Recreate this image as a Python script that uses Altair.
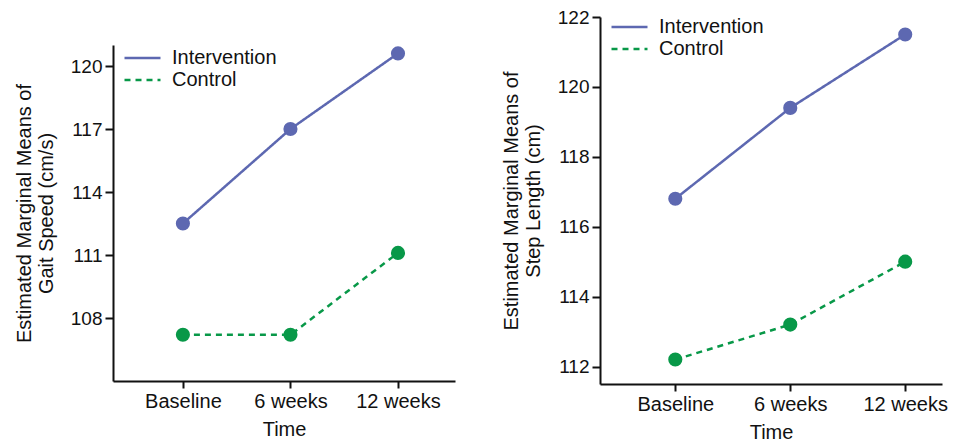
import json
import altair as alt
import pandas as pd

times = ["Baseline", "6 weeks", "12 weeks"]
groups = ["Intervention", "Control"]
gait_intervention = [112.5, 117.0, 120.6]
gait_control = [107.2, 107.2, 111.1]
step_intervention = [116.8, 119.4, 121.5]
step_control = [112.2, 113.2, 115.0]
gait_ticks = [108, 111, 114, 117, 120]
step_ticks = [112, 114, 116, 118, 120, 122]

BLUE = "#5d68b1"
GREEN = "#089848"
FONT = "Liberation Sans"


def frame(inter, ctrl):
    rows = []
    for i, t in enumerate(times):
        rows.append({"idx": i, "time": t, "group": "Intervention", "value": inter[i]})
    for i, t in enumerate(times):
        rows.append({"idx": i, "time": t, "group": "Control", "value": ctrl[i]})
    return pd.DataFrame(rows)


label_expr = json.dumps(times) + "[datum.value]"


def panel(df, ytitle, ydomain, yticks, xdomain, w, h, legend_y):
    x = alt.X(
        "idx:Q",
        scale=alt.Scale(domain=xdomain, nice=False, zero=False),
        axis=alt.Axis(
            values=[0, 1, 2], labelExpr=label_expr, title="Time", grid=False,
            tickSize=7, tickWidth=2, domainWidth=2, domainColor="#111", tickColor="#111",
            labelFontSize=20, titleFontSize=20, labelPadding=3, titlePadding=8,
            labelColor="#111", titleColor="#111", titleFontWeight="normal",
            labelFont=FONT, titleFont=FONT, labelFlush=False,
        ),
    )
    y = alt.Y(
        "value:Q",
        scale=alt.Scale(domain=ydomain, nice=False, zero=False),
        axis=alt.Axis(
            values=yticks, title=ytitle, grid=False,
            tickSize=8, tickWidth=2, domainWidth=2, domainColor="#111", tickColor="#111",
            labelFontSize=19, titleFontSize=20, labelPadding=3, titlePadding=14,
            labelColor="#111", titleColor="#111", titleFontWeight="normal",
            labelFont=FONT, titleFont=FONT, titleLineHeight=22,
        ),
    )
    leg = alt.Legend(
        orient="none", legendX=10, legendY=legend_y, title=None,
        labelFontSize=20, labelFont=FONT, labelColor="#111", symbolType="stroke",
        symbolSize=1296, symbolStrokeWidth=2.5, labelOffset=10, rowPadding=2,
        clipHeight=20,
    )
    color = alt.Color("group:N", scale=alt.Scale(domain=groups, range=[BLUE, GREEN]), legend=leg)
    dash = alt.StrokeDash("group:N", scale=alt.Scale(domain=groups, range=[[1, 0], [6, 5]]), legend=leg)
    lines = alt.Chart(df).mark_line(strokeWidth=2.5).encode(x=x, y=y, color=color, strokeDash=dash, detail="group:N")
    pts = alt.Chart(df).mark_point(filled=True, size=200, opacity=1).encode(
        x=x, y=y,
        color=alt.Color("group:N", scale=alt.Scale(domain=groups, range=[BLUE, GREEN]), legend=None),
    )
    return alt.layer(lines, pts).properties(width=w, height=h)


left = panel(frame(gait_intervention, gait_control),
             ["Estimated Marginal Means of", "Gait Speed (cm/s)"],
             [105, 121], gait_ticks, [-0.65, 2.53], 342, 336, 31)
right = panel(frame(step_intervention, step_control),
              ["Estimated Marginal Means of", "Step Length (cm)"],
              [111.5, 122], step_ticks, [-0.655, 2.32], 342, 367, 0)

spacer = alt.Chart(pd.DataFrame({"a": [0]})).mark_point(opacity=0).properties(width=342, height=8)
left_col = alt.vconcat(spacer, left, spacing=20)

chart = alt.hconcat(left_col, right, spacing=46).resolve_scale(
    color="independent", strokeDash="independent"
).properties(
    padding={"left": 6, "top": 0, "right": 5, "bottom": 0}
).configure_view(stroke=None)

chart.save("out.html", embed_options={"renderer": "svg", "actions": False})
